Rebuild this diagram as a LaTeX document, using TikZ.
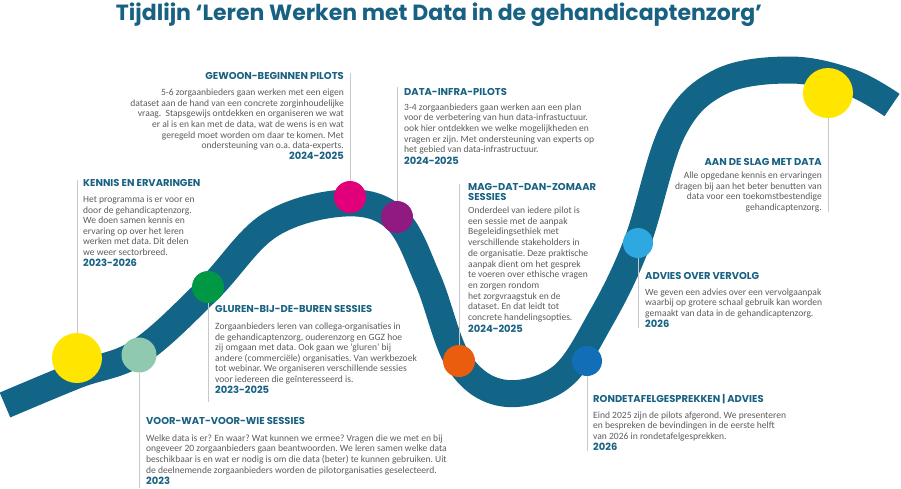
\documentclass[tikz,border=0pt]{standalone}
\usepackage{fontspec}
\setmainfont{Carlito}
\newfontfamily\headfont{Poppins}
\frenchspacing

\definecolor{bandblue}{RGB}{19,101,135}
\definecolor{headblue}{RGB}{24,97,130}
\definecolor{bodygray}{RGB}{92,92,92}
\definecolor{leadgray}{RGB}{200,200,200}
\definecolor{cyellow}{RGB}{255,230,0}
\definecolor{cmint}{RGB}{143,202,176}
\definecolor{cgreen}{RGB}{0,152,68}
\definecolor{cmagenta}{RGB}{226,0,122}
\definecolor{cpurple}{RGB}{145,26,128}
\definecolor{corange}{RGB}{234,93,14}
\definecolor{cblue}{RGB}{18,110,183}
\definecolor{clightblue}{RGB}{45,168,225}

\newcommand\bodysize{\fontsize{9.55}{10.6}\selectfont\frenchspacing}
\newcommand\blockhead[1]{\rule{0pt}{8pt}{\headfont\bfseries\fontsize{9.95}{10}\selectfont\color{headblue}#1}}
\newcommand\blockyear[1]{{\headfont\bfseries\fontsize{9.95}{10}\selectfont\color{headblue}#1}}

\tikzset{
  bandline/.style={draw=bandblue, line width=27pt, line cap=butt, line join=round},
  dot/.style={circle, fill=#1, draw=none, inner sep=0pt},
  leader/.style={draw=leadgray, line width=1pt},
  infoleft/.style={anchor=north west, align=left, inner sep=0pt, font=\bodysize, text=bodygray},
  inforight/.style={anchor=north east, align=right, inner sep=0pt, font=\bodysize, text=bodygray},
}

\begin{document}
\begin{tikzpicture}[x=1pt,y=-1pt]
\useasboundingbox (0,0) rectangle (901,488);

% title
\node[font=\headfont\bfseries\fontsize{22}{26}\selectfont, text=headblue, anchor=base, inner sep=0pt]
  (title) at (439,20) {Tijdlijn ‘Leren Werken met Data in de gehandicaptenzorg’};

% the winding road
\draw[bandline] plot[smooth, tension=0.6] coordinates {
  (5,405) (77,375) (139,352) (208,290) (270,225) (345,203) (396,219)
  (428,280) (459,362) (503,393) (560,378) (600,320) (637,243)
  (673,130) (720,82) (790,70) (850,82) (892,105)};

% milestones on the road
\node[dot=cyellow, minimum size=50pt] (m1) at (77,358) {};
\node[dot=cmint, minimum size=35pt] (m2) at (139,355) {};
\node[dot=cgreen, minimum size=32pt] (m3) at (208,287) {};
\node[dot=cmagenta, minimum size=32pt] (m4) at (350,197) {};
\node[dot=cpurple, minimum size=32pt] (m5) at (397,217) {};
\node[dot=corange, minimum size=32pt] (m6) at (459,361) {};
\node[dot=cblue, minimum size=30pt] (m7) at (587,361) {};
\node[dot=clightblue, minimum size=30pt] (m8) at (638,243) {};
\node[dot=cyellow, minimum size=50pt] (m9) at (828,93) {};

% ends of the leader lines
\coordinate (e1) at (77,180);
\coordinate (e2) at (139,488);
\coordinate (e3) at (208,402);
\coordinate (e4) at (350,73);
\coordinate (e5) at (397,87);
\coordinate (e6) at (459,184);
\coordinate (e7) at (587,451);
\coordinate (e8) at (638,328);
\coordinate (e9) at (828,212);

\draw[leader] (m1.north) -- (e1);
\draw[leader] (m2.south) -- (e2);
\draw[leader] (m3.south) -- (e3);
\draw[leader] (m4.north) -- (e4);
\draw[leader] (m5.north) -- (e5);
\draw[leader] (m6.north) -- (e6);
\draw[leader] (m7.south) -- (e7);
\draw[leader] (m8.south) -- (e8);
\draw[leader] (m9.south) -- (e9);

% text blocks
\node[infoleft] (kennis) at (83,178.7) {\blockhead{KENNIS EN ERVARINGEN}\\[5pt]
  Het programma is er voor en\\
  door de gehandicaptenzorg.\\
  We doen samen kennis en\\
  ervaring op over het leren\\
  werken met data. Dit delen\\
  we weer sectorbreed.\\[0.8pt]
  \blockyear{2023-2026}};

\node[inforight] (gewoon) at (344,71.3) {\blockhead{GEWOON-BEGINNEN PILOTS}\\[5.6pt]
  5-6 zorgaanbieders gaan werken met een eigen\\
  dataset aan de hand van een concrete zorginhoudelijke\\
  vraag.\ \ Stapsgewijs ontdekken en organiseren we wat\\
  er al is en kan met de data, wat de wens is en wat\\
  geregeld moet worden om daar te komen. Met\\
  ondersteuning van o.a. data-experts.\\[0.4pt]
  \blockyear{2024-2025}};

\node[infoleft] (infra) at (404,87) {\blockhead{DATA-INFRA-PILOTS}\\[4.4pt]
  3-4 zorgaanbieders gaan werken aan een plan\\
  voor de verbetering van hun data-infrastuctuur.\\
  ook hier ontdekken we welke mogelijkheden en\\
  vragen er zijn. Met ondersteuning van experts op\\
  het gebied van data-infrastructuur.\\[1pt]
  \blockyear{2024-2025}};

\node[infoleft, font=\fontsize{9.55}{10.7}\selectfont\frenchspacing] (zomaar) at (468,182.7) {\blockhead{MAG-DAT-DAN-ZOMAAR}\\[-0.7pt]
  \blockhead{SESSIES}\\[1.9pt]
  Onderdeel van iedere pilot is\\
  een sessie met de aanpak\\
  Begeleidingsethiek met\\
  verschillende stakeholders in\\
  de organisatie. Deze praktische\\
  aanpak dient om het gesprek\\
  te voeren over ethische vragen\\
  en zorgen rondom\\
  het zorgvraagstuk en de\\
  dataset. En dat leidt tot\\
  concrete handelingsopties.\\[1.3pt]
  \blockyear{2024-2025}};

\node[infoleft] (gluren) at (215,304.7) {\blockhead{GLUREN-BIJ-DE-BUREN SESSIES}\\[6pt]
  Zorgaanbieders leren van collega-organisaties in\\
  de gehandicaptenzorg, ouderenzorg en GGZ hoe\\
  zij omgaan met data. Ook gaan we ‘gluren’ bij\\
  andere (commerciële) organisaties. Van werkbezoek\\
  tot webinar. We organiseren verschillende sessies\\
  voor iedereen die geïnteresseerd is.\\[0.4pt]
  \blockyear{2023-2025}};

\node[infoleft] (voorwat) at (146,416.5) {\blockhead{VOOR-WAT-VOOR-WIE SESSIES}\\[6pt]
  Welke data is er? En waar? Wat kunnen we ermee? Vragen die we met en bij\\
  ongeveer 20 zorgaanbieders gaan beantwoorden. We leren samen welke data\\
  beschikbaar is en wat er nodig is om die data (beter) te kunnen gebruiken. Uit\\
  de deelnemende zorgaanbieders worden de pilotorganisaties geselecteerd.\\[0.6pt]
  \blockyear{2023}};

\node[infoleft] (ronde) at (593,393.7) {\blockhead{RONDETAFELGESPREKKEN | ADVIES}\\[5.4pt]
  Eind 2025 zijn de pilots afgerond. We presenteren\\
  en bespreken de bevindingen in de eerste helft\\
  van 2026 in rondetafelgesprekken.\\[1pt]
  \blockyear{2026}};

\node[infoleft] (vervolg) at (645,271) {\blockhead{ADVIES OVER VERVOLG}\\[5.4pt]
  We geven een advies over een vervolgaanpak\\
  waarbij op grotere schaal gebruik kan worden\\
  gemaakt van data in de gehandicaptenzorg.\\[0pt]
  \blockyear{2026}};

\node[inforight] (slag) at (822,157) {\blockhead{AAN DE SLAG MET DATA}\\[2.7pt]
  Alle opgedane kennis en ervaringen\\
  dragen bij aan het beter benutten van\\
  data voor een toekomstbestendige\\
  gehandicaptenzorg.};
\end{tikzpicture}
\end{document}
